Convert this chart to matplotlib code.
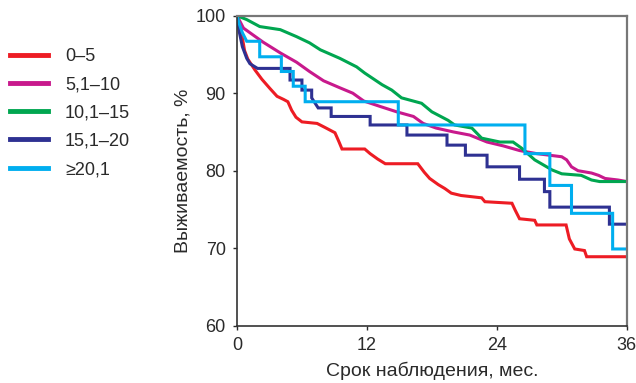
import matplotlib
matplotlib.use("Agg")
import matplotlib.pyplot as plt

plt.rcParams['font.family'] = ['Liberation Sans', 'DejaVu Sans']

# Survival curves (months, %)
labels = ["0–5", "5,1–10", "10,1–15", "15,1–20", "≥20,1"]
colors = ["#ED1C24", "#C8198C", "#00A650", "#2E3192", "#00AEEF"]

t_red = [0, 0.3, 0.7, 1.0, 1.66, 2.3, 3.05, 3.7, 4.3, 4.7, 5.05, 5.45, 6.0, 7.4, 8.1,
         9.05, 9.4, 9.7, 11.8, 12.3, 13.0, 13.7, 16.7, 17.3, 17.8, 18.6, 19.2, 19.8,
         20.7, 22.6, 22.9, 25.4, 25.7, 26.1, 27.5, 27.7, 30.4, 30.7, 31.2, 32.1, 32.3, 36]
s_red = [100, 98.8, 95.5, 94.4, 93.0, 91.8, 90.6, 89.6, 89.2, 88.9, 87.8, 86.9, 86.3, 86.1, 85.6,
         84.9, 83.8, 82.8, 82.8, 82.2, 81.5, 80.9, 80.9, 79.8, 79.0, 78.2, 77.7, 77.1,
         76.8, 76.5, 76.0, 75.8, 74.9, 73.8, 73.6, 73.0, 73.0, 71.2, 69.9, 69.7, 68.9, 68.9]

t_mag = [0, 0.6, 1.2, 2.4, 4.0, 5.5, 6.7, 8.0, 9.5, 10.7, 11.7, 13.2, 14.75, 16.3, 17.2,
         18.4, 20.0, 21.5, 23.1, 24.6, 26.1, 27.7, 30.0, 30.45, 30.9, 31.5, 32.75, 33.4,
         34.0, 35.2, 36]
s_mag = [100, 98.4, 97.8, 96.6, 95.2, 94.0, 92.8, 91.6, 90.7, 90.0, 89.0, 88.3, 87.6, 87.0, 86.1,
         85.5, 85.0, 84.6, 83.7, 83.2, 82.6, 82.2, 81.8, 81.4, 80.5, 80.0, 79.7, 79.4,
         79.0, 78.8, 78.6]

t_grn = [0, 0.9, 2.1, 4.0, 5.5, 6.7, 7.7, 9.5, 11.05, 11.8, 13.4, 14.3, 15.2, 17.05, 18.0,
         19.5, 20.1, 21.7, 22.6, 24.3, 25.5, 26.3, 27.5, 29.1, 30.0, 31.8, 32.75, 33.5, 36]
s_grn = [100, 99.5, 98.6, 98.2, 97.3, 96.5, 95.6, 94.5, 93.4, 92.6, 91.1, 90.4, 89.4, 88.7, 87.6,
         86.5, 85.9, 85.5, 84.2, 83.7, 83.7, 82.9, 81.4, 80.1, 79.6, 79.4, 78.8, 78.6, 78.6]

t_dbl = [0, 0.2, 0.5, 0.9, 1.2, 1.9, 4.9, 4.9, 6.0, 6.0, 6.9, 6.9, 7.5, 8.7, 8.7,
         12.3, 12.3, 15.7, 15.7, 19.4, 19.4, 21.1, 21.1, 23.1, 23.1, 26.1, 26.1, 28.4,
         28.4, 28.9, 28.9, 34.4, 34.4, 36]
s_dbl = [100, 98, 96, 94.5, 93.8, 93.2, 93.2, 91.7, 91.7, 90.4, 90.4, 89.4, 88.1, 88.1, 87.0,
         87.0, 85.9, 85.9, 84.6, 84.6, 83.3, 83.3, 82.0, 82.0, 80.5, 80.5, 78.9, 78.9,
         77.3, 77.3, 75.3, 75.3, 73.1, 73.1]

t_lbl = [0, 0.2, 0.5, 0.9, 2.1, 2.1, 4.1, 4.1, 5.2, 5.2, 6.3, 6.3, 14.9, 14.9, 26.6, 26.6,
         28.9, 28.9, 30.9, 30.9, 34.7, 34.7, 36]
s_lbl = [100, 99, 97.8, 96.7, 96.7, 94.7, 94.7, 92.8, 92.8, 90.9, 90.9, 88.9, 88.9, 85.9, 85.9,
         82.2, 82.2, 78.1, 78.1, 74.5, 74.5, 69.9, 69.9]

series = [(t_red, s_red), (t_mag, s_mag), (t_grn, s_grn), (t_dbl, s_dbl), (t_lbl, s_lbl)]
txt_col = '#2a2a2a'

fig = plt.figure(figsize=(6.36, 3.83), dpi=100)
ax = fig.add_axes([0.3726, 0.1496, 0.6128, 0.8094])

lines = []
for (t, s), c, lab in zip(series, colors, labels):
    ln, = ax.plot(t, s, color=c, lw=2.2, label=lab, solid_joinstyle='miter')
    lines.append(ln)

ax.set_xlim(0, 36)
ax.set_ylim(60, 100)
ax.set_xticks([0, 12, 24, 36])
ax.set_yticks([60, 70, 80, 90, 100])
ax.tick_params(direction='out', length=3, width=1, labelsize=13, colors=txt_col, pad=5)

for side in ['left', 'bottom']:
    ax.spines[side].set_color('#333333')
    ax.spines[side].set_linewidth(1.2)
for side in ['top', 'right']:
    ax.spines[side].set_color('#777777')
    ax.spines[side].set_linewidth(1.6)

ax.set_xlabel("Срок наблюдения, мес.", fontsize=14, color=txt_col, labelpad=6)
ax.set_ylabel("Выживаемость, %", fontsize=14, color=txt_col, labelpad=3)

leg = fig.legend(handles=lines, loc='upper left', bbox_to_anchor=(0.0, 0.90),
                 frameon=False, fontsize=13, handlelength=2.1, handletextpad=0.95,
                 labelspacing=0.62, borderaxespad=0.15)
for h in leg.legend_handles:
    h.set_linewidth(3.5)
for txt in leg.get_texts():
    txt.set_color(txt_col)

fig.savefig("out.png", dpi=100)
